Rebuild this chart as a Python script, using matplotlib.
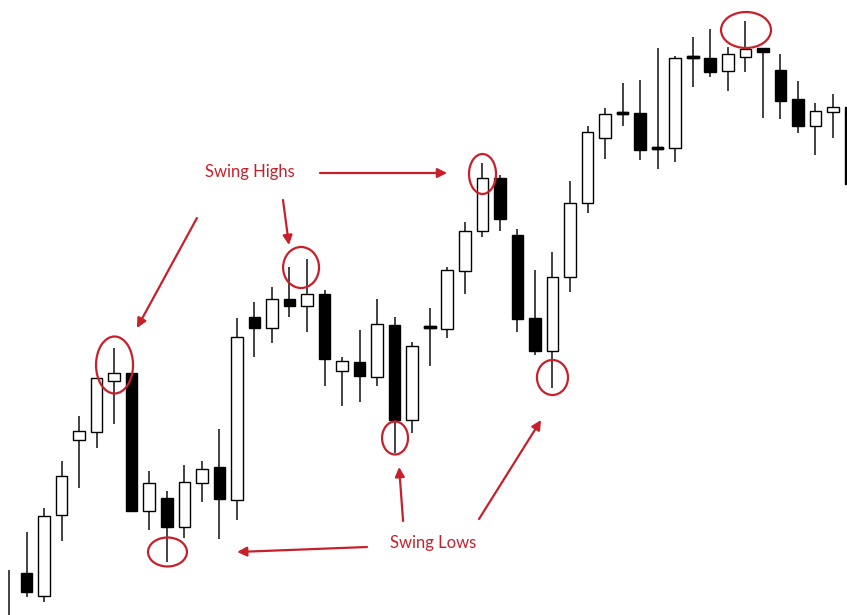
import matplotlib
matplotlib.use("Agg")
import matplotlib.pyplot as plt
import numpy as np
from matplotlib.patches import Ellipse

# OHLC (arbitrary price units)
opens = [-8, 42, 19, 100, 175, 183, 234, 242, 104, 117, 88, 132, 148, 115, 298, 287,
         316, 309, 321, 244, 253, 238, 290, 195, 287, 286, 344, 384, 437, 380, 297, 264,
         338, 412, 477, 501, 502, 466, 467, 557, 557, 544, 558, 567, 545, 516, 489, 503, 508]
highs = [45, 83, 107, 154, 199, 237, 267, 242, 144, 124, 150, 154, 186, 297, 313, 328,
         348, 356, 325, 258, 285, 316, 298, 273, 307, 348, 393, 452, 440, 386, 345, 363,
         434, 489, 507, 532, 535, 567, 559, 578, 586, 568, 594, 567, 561, 534, 512, 521, 508]
lows = [-10, 18, 13, 74, 127, 167, 191, 103, 85, 53, 77, 113, 76, 95, 258, 272,
        298, 283, 229, 209, 213, 229, 162, 182, 249, 277, 321, 378, 384, 283, 260, 227,
        323, 402, 456, 489, 455, 446, 453, 528, 538, 524, 543, 497, 496, 482, 460, 477, 431]
closes = [-5, 23, 99, 139, 184, 237, 242, 104, 132, 88, 133, 146, 116, 278, 287, 316,
          309, 321, 256, 254, 239, 291, 195, 269, 287, 345, 384, 437, 396, 296, 264, 338,
          412, 483, 501, 501, 465, 466, 557, 557, 543, 561, 566, 563, 514, 489, 504, 508, 431]

# swing points circled: (index, price, width, height)
circles_x = [6.02, 9.04, 16.66, 22.02, 27.01, 31.0, 42.04]
circles_y = [250, 63, 347.5, 177, 441, 237.5, 585]
circles_w = [2.11, 2.22, 2.05, 1.48, 1.54, 1.77, 2.85]
circles_h = [57, 29, 41, 33, 40, 35, 36]

# arrows: tail -> head
high_arrows = [((10.72, 397), (7.30, 287)), ((15.63, 415), (15.97, 370)),
               ((17.74, 442), (24.99, 442))]
low_arrows = [((20.42, 68), (13.01, 63)), ((22.48, 94), (22.25, 148)),
              ((26.81, 96), (30.35, 195))]

RED = "#c8202b"

o = np.array(opens, float)
c = np.array(closes, float)
x = np.arange(len(o))
up = c >= o
bottom = np.minimum(o, c)
height = np.maximum(np.abs(c - o), 2.2)

fig = plt.figure(figsize=(8.47, 6.15), dpi=100)
ax = fig.add_axes([0, 0, 1, 1])

ax.vlines(x, lows, highs, color="#222222", linewidth=1.2, zorder=1)
ax.bar(x, height, bottom=bottom, width=0.66,
       color=np.where(up, "white", "black"), edgecolor="black",
       linewidth=1.0, zorder=2)
# doji bars are just thick black lines
doji = np.abs(c - o) < 1
ax.bar(x[doji], height[doji], bottom=bottom[doji], width=0.66,
       color="black", edgecolor="black", linewidth=1.0, zorder=3)

for cx, cy, w, h in zip(circles_x, circles_y, circles_w, circles_h):
    ax.add_patch(Ellipse((cx, cy), w, h, fill=False, edgecolor=RED,
                         linewidth=1.6, zorder=4))

arrow_kw = dict(arrowstyle="-|>", color=RED, lw=1.6, mutation_scale=14,
                shrinkA=0, shrinkB=0)
for tail, head in high_arrows + low_arrows:
    ax.annotate("", xy=head, xytext=tail, arrowprops=arrow_kw, zorder=5)

ax.text(13.75, 443, "Swing Highs", color=RED, fontsize=12, family="Lato",
        ha="center", va="center")
ax.text(24.2, 72, "Swing Lows", color=RED, fontsize=12, family="Lato",
        ha="center", va="center")

ax.set_xlim(-0.513, 47.8)
ax.set_ylim(0, 615)
ax.axis("off")

fig.savefig("out.png", dpi=100, facecolor="white")
